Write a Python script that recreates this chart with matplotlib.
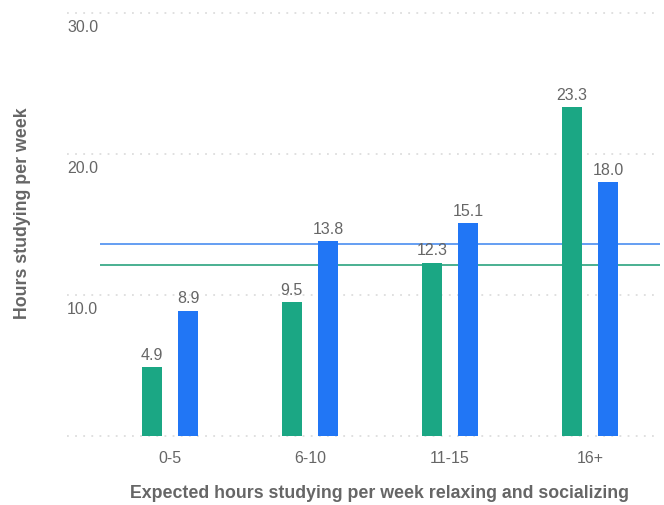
import numpy as np
import matplotlib.pyplot as plt
import matplotlib.transforms as mtransforms

plt.rcParams['font.family'] = ['Liberation Sans', 'DejaVu Sans']

categories = ['0-5', '6-10', '11-15', '16+']
green_vals = [4.9, 9.5, 12.3, 23.3]
blue_vals = [8.9, 13.8, 15.1, 18.0]
green_avg = 12.1
blue_avg = 13.6
y_ticks = [0, 10, 20, 30]

GREEN = '#1ba784'
BLUE = '#2176f5'
GREY = '#666666'

fig = plt.figure(figsize=(6.64, 5.05), dpi=100)
ax = fig.add_axes([100 / 664, 1 - 436 / 505, 560 / 664, 423 / 505])

x = np.arange(len(categories))
w = 0.145
off = 0.13
ax.bar(x - off, green_vals, w, color=GREEN, zorder=3)
ax.bar(x + off, blue_vals, w, color=BLUE, zorder=3)

for xi, g, b in zip(x, green_vals, blue_vals):
    ax.annotate(f'{g:.1f}', (xi - off, g), xytext=(0, 3), textcoords='offset points',
                ha='center', va='bottom', color=GREY, fontsize=11.5)
    ax.annotate(f'{b:.1f}', (xi + off, b), xytext=(0, 3), textcoords='offset points',
                ha='center', va='bottom', color=GREY, fontsize=11.5)

ax.set_xlim(-0.5, 3.5)
ax.set_ylim(0, 30)

# dotted gridlines reaching under the tick labels
trans = mtransforms.blended_transform_factory(ax.transAxes, ax.transData)
for t in y_ticks:
    ax.plot([-33 / 560, 1], [t, t], transform=trans, color='#dddddd', lw=1.3,
            linestyle=(0, (1, 3.5)), clip_on=False, zorder=1)
    if t > 0:
        ax.annotate(f'{t:.1f}', (-33 / 560, t), xycoords=trans, xytext=(0, -5),
                    textcoords='offset points', ha='left', va='top',
                    color=GREY, fontsize=11.5)

# average lines
ax.axhline(blue_avg, color='#4a8ef0', lw=1.2, zorder=2)
ax.axhline(green_avg, color='#2aa37f', lw=1.2, zorder=2)

ax.set_yticks([])
ax.set_xticks(x)
ax.set_xticklabels(categories, color=GREY, fontsize=11.5)
ax.tick_params(axis='x', length=0, pad=11)
for s in ax.spines.values():
    s.set_visible(False)

fig.text(23 / 664, 1 - 213 / 505, 'Hours studying per week', rotation=90,
         ha='center', va='center', color=GREY, fontsize=12.8, fontweight='bold')
fig.text(380 / 664, 1 - 494 / 505, 'Expected hours studying per week relaxing and socializing',
         ha='center', va='center', color=GREY, fontsize=12.8, fontweight='bold')

plt.savefig('out.png', dpi=100)
